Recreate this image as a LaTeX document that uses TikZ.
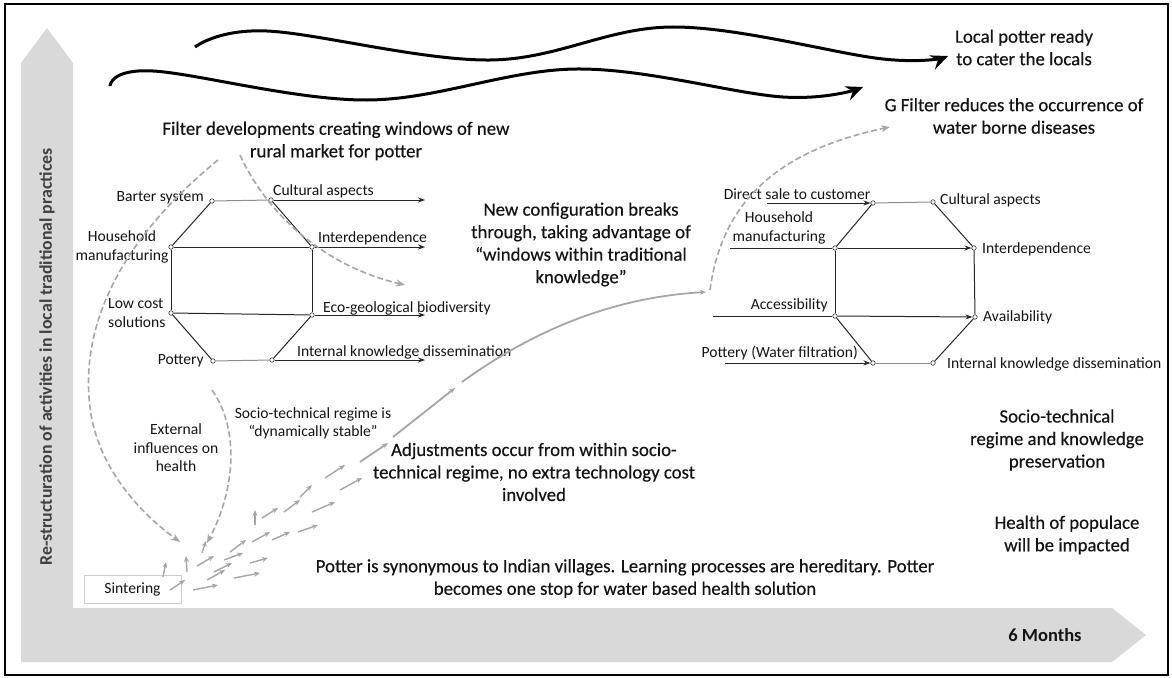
\documentclass[tikz,border=0pt]{standalone}
\usepackage{fontspec}
\setmainfont{Carlito}
\newfontfamily\headfont{Carlito}[FakeBold=0.4]
\usetikzlibrary{arrows.meta}
\definecolor{band}{HTML}{D9D9D9}
\definecolor{hintgray}{HTML}{A6A6A6}
\definecolor{ink}{HTML}{141414}
\definecolor{axisink}{HTML}{404040}
\tikzset{
  dot/.style={circle,draw=black!80,fill=white,inner sep=0pt,minimum size=4.5pt,line width=0.6pt},
  lbl/.style={font=\fontsize{15.6}{18.5}\selectfont,inner sep=1pt,text=ink},
  big/.style={font=\headfont\fontsize{18.8}{22.5}\selectfont,align=center,text=ink,inner sep=0pt},
  link/.style={line width=1pt,black!85},
  flow/.style={link,-{Stealth[length=7pt,width=5pt]}},
  wave/.style={line width=3pt,-{Stealth[length=17pt,width=15pt,inset=6pt]}},
  hint/.style={hintgray,line width=1.6pt,dash pattern=on 6pt off 3pt,-{Stealth[length=9pt,width=7pt]}},
  tick/.style={hintgray,line width=1.4pt,-{Stealth[length=6pt,width=5pt]}}
}
\begin{document}
\begin{tikzpicture}[x=1pt,y=-1pt]
  \useasboundingbox (0,0) rectangle (1172,677);
  \fill[band] (21,662) -- (21,63) -- (47,28) -- (73,63) -- (73,608) -- (1112,608)
    -- (1146,635) -- (1112,662) -- cycle;
  \draw[line width=1.5pt] (5,4) rectangle (1168,675);
  \node[rotate=90,font=\bfseries\fontsize{17.8}{20}\selectfont,text=axisink] (axis) at (47,357)
    {Re-structuration of activities in local traditional practices};
  \node[font=\bfseries\fontsize{18.5}{20}\selectfont,text=ink] (months) at (1045,635) {6 Months};

  \draw[wave] plot[smooth,tension=0.6] coordinates {(195,47) (267,31) (490,60) (673,27) (883,59) (948,56)};
  \draw[wave] plot[smooth,tension=0.6] coordinates {(110,86) (153,71) (367,100) (577,69) (783,97) (863,87)};

  \node[big] (local) at (1024,47.5) {Local potter ready\\to cater the locals};
  \node[big] (gfilter) at (1014,116) {G Filter reduces the occurrence of\\water borne diseases};
  \node[big] (filter) at (336,141) {Filter developments creating windows of new\\rural market for potter};
  \node[big] (newcfg) at (581,244.5) {New configuration breaks\\through, taking advantage of\\“windows within traditional\\knowledge”};
  \node[big] (adjust) at (534,472) {Adjustments occur from within socio-\\technical regime, no extra technology cost\\involved};
  \node[big] (regime) at (1057,440) {Socio-technical\\regime and knowledge\\preservation};
  \node[big] (health) at (1067,535) {Health of populace\\will be impacted};
  \node[big] (potter) at (625,578.5) {Potter is synonymous to Indian villages. Learning processes are hereditary. Potter\\becomes one stop for water based health solution};
  \node[lbl,align=center] (stable) at (313,423.5) {Socio-technical regime is\\“dynamically stable”};
  \node[lbl,align=center] (external) at (176,448) {External\\influences on\\health};
  \node[lbl,draw=black!20,fill=white,minimum width=97pt,minimum height=28pt] (sinter) at (132.5,589) {Sintering};

  \node[dot] (lb) at (212,201) {};
  \node[dot] (lc) at (271,200) {};
  \node[dot] (lh) at (171,247) {};
  \node[dot] (li) at (312,247) {};
  \node[dot] (ll) at (171,313) {};
  \node[dot] (le) at (312,315) {};
  \node[dot] (lp) at (213,361) {};
  \node[dot] (lk) at (272,360) {};
  \coordinate (lc-out) at (425,200);
  \coordinate (li-out) at (425,247);
  \coordinate (le-out) at (425,315);
  \coordinate (lk-out) at (425,360);
  \path[link]
    (lb) edge[black!45] (lc)
    (lb) edge (lh)
    (lc) edge (li)
    (lh) edge (li)
    (lh) edge (ll)
    (li) edge (le)
    (ll) edge (le)
    (ll) edge (lp)
    (le) edge (lk)
    (lp) edge[black!45] (lk);
  \path[flow]
    (lc) edge (lc-out)
    (li) edge (li-out)
    (le) edge (le-out)
    (lk) edge (lk-out);
  \node[lbl,anchor=east] (lbt) at (205,198) {Barter system};
  \node[lbl,anchor=west] (lct) at (272,191) {Cultural aspects};
  \node[lbl,align=center] (lht) at (122,247) {Household\\manufacturing};
  \node[lbl,anchor=west] (lit) at (317,238) {Interdependence};
  \node[lbl,align=left,anchor=west] (llt) at (107,313) {Low cost\\solutions};
  \node[lbl,anchor=west] (let) at (322,308) {Eco-geological biodiversity};
  \node[lbl,anchor=east] (lpt) at (205,361) {Pottery};
  \node[lbl,anchor=west] (lkt) at (296,352) {Internal knowledge dissemination};

  \node[dot] (rd) at (873,203) {};
  \node[dot] (rc) at (933,202) {};
  \node[dot] (rh) at (835,248) {};
  \node[dot] (ri) at (974,248) {};
  \node[dot] (ra) at (835,316) {};
  \node[dot] (rv) at (975,317) {};
  \node[dot] (rp) at (873,363) {};
  \node[dot] (rk) at (933,363) {};
  \coordinate (rd-in) at (767,203);
  \coordinate (rh-in) at (730,248);
  \coordinate (ra-in) at (713,316);
  \coordinate (rp-in) at (725,363);
  \path[link]
    (rd) edge[black!45] (rc)
    (rd) edge (rh)
    (rc) edge (ri)
    (rh) edge (ra)
    (ri) edge (rv)
    (ra) edge (rp)
    (rv) edge (rk)
    (rp) edge[black!45] (rk)
    (rh-in) edge (rh)
    (ra-in) edge (ra);
  \path[flow]
    (rd-in) edge (rd)
    (rh) edge (ri)
    (ra) edge (rv)
    (rp-in) edge (rp);
  \node[lbl] (rdt) at (797,194) {Direct sale to customer};
  \node[lbl,anchor=west] (rct) at (939,200) {Cultural aspects};
  \node[lbl,align=center] (rht) at (779,228) {Household\\manufacturing};
  \node[lbl,anchor=west] (rit) at (981,249) {Interdependence};
  \node[lbl,anchor=east] (rat) at (829,305) {Accessibility};
  \node[lbl,anchor=west] (rvt) at (982,317) {Availability};
  \node[lbl,anchor=east] (rpt) at (859,353) {Pottery (Water filtration)};
  \node[lbl,anchor=west] (rkt) at (946,364) {Internal knowledge dissemination};

  \draw[hint] (218,160) .. controls (120,240) and (75,330) .. (92,420) .. controls (105,480) and (150,520) .. (180,542);
  \draw[hint] (240,155) .. controls (265,210) and (320,265) .. (405,285);
  \draw[hint] (212,390) .. controls (240,430) and (235,490) .. (207,543);
  \draw[hint] (710,290) .. controls (722,200) and (780,150) .. (890,127);

  \draw[tick,line width=1.8pt] (360,462) -- (388,443);
  \draw[tick,line width=1.8pt] (393,437) -- (455,388);
  \draw[tick,line width=1.8pt] (462,382) .. controls (520,340) and (600,298) .. (706,292);
  \foreach \xa/\ya/\xb/\yb in {163/577/166/562, 187/572/186/556, 170/590/185/580, 193/590/218/585,
      207/580/225/570, 197/566/214/556, 202/553/206/541, 214/572/232/563, 234/578/260/573,
      230/552/246/540, 224/560/243/553, 250/563/268/558, 252/542/270/532, 255/525/255/510,
      262/518/278/508, 272/540/290/532, 284/512/300/500, 298/532/318/525, 300/497/312/485,
      312/512/335/502, 325/478/345/465, 340/490/362/478}
    \draw[tick] (\xa,\ya) -- (\xb,\yb);
\end{tikzpicture}
\end{document}
